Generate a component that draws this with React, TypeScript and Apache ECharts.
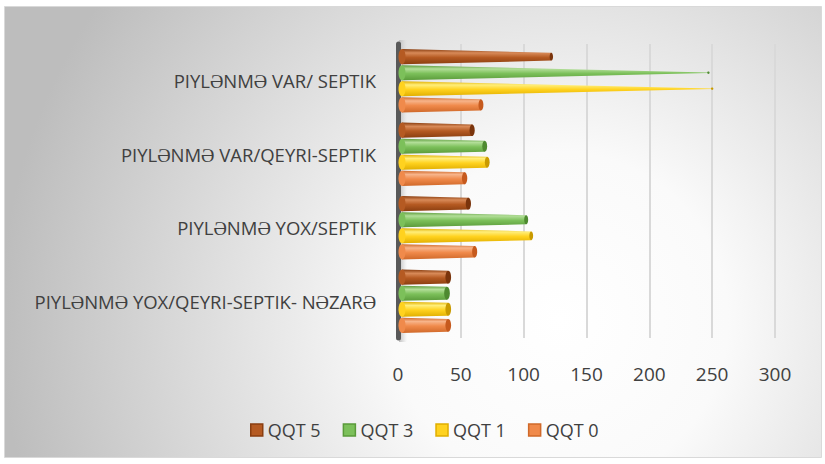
import React, { useEffect, useRef } from "react";
import * as echarts from "echarts";

// categories listed bottom-to-top (ECharts category y axis starts at the bottom)
const categories = [
  "PIYLƏNMƏ YOX/QEYRI-SEPTIK- NƏZARƏ",
  "PIYLƏNMƏ YOX/SEPTIK",
  "PIYLƏNMƏ VAR/QEYRI-SEPTIK",
  "PIYLƏNMƏ VAR/ SEPTIK",
];
const qqt0 = [40, 61, 53, 66];
const qqt1 = [40, 106, 71, 250];
const qqt3 = [39, 102, 69, 247];
const qqt5 = [40, 56, 59, 122];
const xTicks = [0, 50, 100, 150, 200, 250, 300];
const legendOrder = ["QQT 5", "QQT 3", "QQT 1", "QQT 0"];

const CONE_MAX = 250;

const palette: Record<string, { base: string; light: string; dark: string; cap: string }> = {
  "QQT 0": { base: "#F08A4B", light: "#F7B48A", dark: "#D0692A", cap: "#C65A1E" },
  "QQT 1": { base: "#FFD21F", light: "#FFEE7A", dark: "#E0AE00", cap: "#C99A00" },
  "QQT 3": { base: "#7CC05A", light: "#B2DE98", dark: "#5A9A3A", cap: "#4E8A30" },
  "QQT 5": { base: "#B55A22", light: "#D88A58", dark: "#8A3E10", cap: "#7A340C" },
};

function coneSeries(name: string, values: number[], slotIndex: number) {
  const c = palette[name];
  return {
    type: "custom",
    name,
    itemStyle: { color: c.base, borderColor: c.dark },
    encode: { x: 1, y: 0 },
    data: values.map((v, i) => [i, v]),
    renderItem: (params: any, api: any) => {
      const cat = api.value(0);
      const v = api.value(1);
      const p0 = api.coord([0, cat]);
      const p1 = api.coord([v, cat]);
      const band = api.size([0, 1])[1];
      const slot = band * 0.218;
      const cy = p0[1] + (1.5 - slotIndex) * slot;
      const h = slot * 0.95;
      const h1 = Math.max(0.6, h * (1 - v / CONE_MAX));
      const x0 = p0[0] + 4;
      const x1 = p1[0];
      const grad = new echarts.graphic.LinearGradient(0, 0, 0, 1, [
        { offset: 0, color: c.dark },
        { offset: 0.25, color: c.light },
        { offset: 0.55, color: c.base },
        { offset: 1, color: c.dark },
      ]);
      return {
        type: "group",
        children: [
          {
            type: "polygon",
            shape: {
              points: [
                [x0, cy - h / 2],
                [x1, cy - h1 / 2],
                [x1, cy + h1 / 2],
                [x0, cy + h / 2],
              ],
            },
            style: { fill: grad },
          },
          {
            type: "ellipse",
            shape: { cx: x0, cy: cy, rx: 3.5, ry: h / 2 },
            style: { fill: c.base },
          },
          {
            type: "ellipse",
            shape: { cx: x1, cy: cy, rx: Math.max(1.2, h1 * 0.22), ry: Math.max(1.2, h1 / 2) },
            style: { fill: c.cap },
          },
        ],
      };
    },
  };
}

export default function App() {
  const ref = useRef<HTMLDivElement>(null);
  useEffect(() => {
    if (!ref.current) return;
    const chart = echarts.init(ref.current, null, { renderer: "svg" });
    chart.setOption({
      animation: false,
      textStyle: { fontFamily: "Open Sans" },
      graphic: [
        {
          type: "rect",
          z: -10,
          silent: true,
          shape: { x: 4.5, y: 6.5, width: 817, height: 451 },
          style: {
            fill: new echarts.graphic.RadialGradient(
              560,
              320,
              560,
              [
                { offset: 0, color: "#ffffff" },
                { offset: 0.3, color: "#fafafa" },
                { offset: 1, color: "#bdbdbd" },
              ],
              true
            ),
            stroke: "#d9d9d9",
            lineWidth: 1,
          },
        },
        {
          type: "rect",
          z: -5,
          silent: true,
          shape: { x: 399, y: 40, width: 8, height: 302 },
          style: {
            fill: new echarts.graphic.LinearGradient(0, 0, 1, 0, [
              { offset: 0, color: "#bdbdbd" },
              { offset: 1, color: "rgba(210,210,210,0)" },
            ]),
          },
        },
      ],
      legend: {
        data: legendOrder.map((n) => ({
          name: n,
          itemStyle: { color: palette[n].base, borderColor: palette[n].dark, borderWidth: 1.5 },
        })),
        bottom: 20,
        left: 245,
        icon: "rect",
        itemWidth: 12,
        itemHeight: 12,
        itemGap: 22,
        textStyle: { color: "#404040", fontSize: 18, fontFamily: "Open Sans" },
      },
      grid: { left: 398, right: 50, top: 44, bottom: 126, containLabel: false },
      xAxis: {
        type: "value",
        min: 0,
        max: 300,
        interval: 50,
        axisLine: { show: false },
        axisTick: { show: false },
        axisLabel: {
          margin: 26,
          color: "#404040",
          fontSize: 19,
          fontFamily: "Open Sans",
          customValues: xTicks,
        },
        splitLine: { show: true, lineStyle: { color: "#d9d9d9", width: 2 } },
      },
      yAxis: {
        type: "category",
        data: categories,
        axisLine: { show: true, lineStyle: { color: "#595959", width: 5 } },
        axisTick: { show: false },
        axisLabel: {
          margin: 22,
          color: "#404040",
          fontSize: 18.5,
          fontFamily: "Open Sans",
        },
      },
      series: [
        coneSeries("QQT 0", qqt0, 0),
        coneSeries("QQT 1", qqt1, 1),
        coneSeries("QQT 3", qqt3, 2),
        coneSeries("QQT 5", qqt5, 3),
      ],
    });
    return () => chart.dispose();
  }, []);
  return (
    <div
      ref={ref}
      style={{ position: "absolute", left: 0, top: 0, width: 825, height: 464 }}
    />
  );
}
